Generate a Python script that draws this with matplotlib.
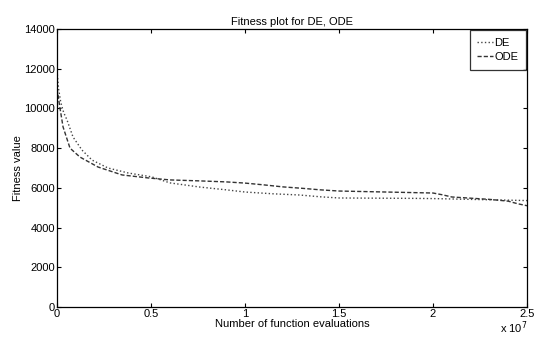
import matplotlib
matplotlib.use("Agg")
import matplotlib.pyplot as plt

# function evaluations are in units of 1e7
de_x = [0, 0.008, 0.02, 0.035, 0.053, 0.085, 0.133, 0.186, 0.271, 0.378, 0.505, 0.6, 0.76,
        0.9, 1.0, 1.15, 1.29, 1.4, 1.5, 1.7, 1.9, 2.0, 2.2, 2.4, 2.5]
de_y = [11900, 11000, 10300, 9800, 9420, 8560, 7900, 7400, 7000, 6750, 6550, 6250, 6040,
        5900, 5790, 5700, 5640, 5550, 5490, 5480, 5470, 5460, 5420, 5380, 5360]

ode_x = [0, 0.008, 0.016, 0.032, 0.069, 0.122, 0.218, 0.346, 0.484, 0.6, 0.76, 0.9,
         1.0, 1.1, 1.2, 1.3, 1.4, 1.5, 1.6, 1.7, 1.8, 1.9, 2.0, 2.05, 2.1, 2.2, 2.3, 2.4, 2.45, 2.5]
ode_y = [11000, 10500, 10000, 9070, 8000, 7550, 7050, 6650, 6500, 6400, 6350, 6300,
         6240, 6150, 6050, 5980, 5900, 5840, 5820, 5800, 5780, 5760, 5740, 5650, 5540, 5480, 5420, 5330, 5200, 5100]

x_ticks = [0, 0.5, 1, 1.5, 2, 2.5]
y_ticks = [0, 2000, 4000, 6000, 8000, 10000, 12000, 14000]

plt.rcParams['font.family'] = ['Liberation Sans', 'DejaVu Sans']
plt.rcParams['font.size'] = 8

fig = plt.figure(figsize=(5.39, 3.37), dpi=100)
ax = fig.add_axes([0.1058, 0.089, 0.872, 0.825])

ax.plot(de_x, de_y, linestyle=':', color='#444444', linewidth=1.0, label='DE')
ax.plot(ode_x, ode_y, linestyle='--', dashes=(3, 1.5), color='#333333', linewidth=1.0, label='ODE')

ax.set_xlim(0, 2.5)
ax.set_ylim(0, 14000)
ax.set_xticks(x_ticks)
ax.set_xticklabels(['0', '0.5', '1', '1.5', '2', '2.5'])
ax.set_yticks(y_ticks)
ax.tick_params(direction='in', top=True, right=True, length=3, width=0.8, pad=1.5)
for s in ax.spines.values():
    s.set_linewidth(0.9)

ax.set_title('Fitness plot for DE, ODE', fontsize=8, pad=3)
ax.set_xlabel('Number of function evaluations', labelpad=0)
ax.set_ylabel('Fitness value', labelpad=1)
ax.text(1.0, -0.092, 'x 10$^7$', transform=ax.transAxes, ha='right', va='baseline', fontsize=8)

leg = ax.legend(loc='upper right', fancybox=False, edgecolor='black', handlelength=1.4,
                handletextpad=0.1, borderpad=0.7, labelspacing=0.35, borderaxespad=0.1)
leg.get_frame().set_linewidth(0.9)

fig.savefig('out.png', dpi=100)
